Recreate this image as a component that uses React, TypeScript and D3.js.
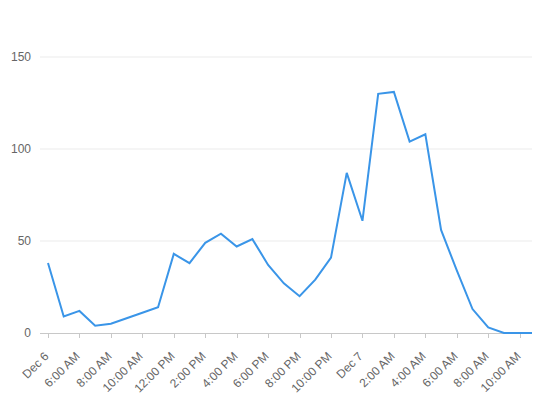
import React from "react";
import * as d3 from "d3";

const times: string[] = [
  "2016-12-06T04:00", "2016-12-06T05:00", "2016-12-06T06:00", "2016-12-06T07:00",
  "2016-12-06T08:00", "2016-12-06T09:00", "2016-12-06T10:00", "2016-12-06T11:00",
  "2016-12-06T12:00", "2016-12-06T13:00", "2016-12-06T14:00", "2016-12-06T15:00",
  "2016-12-06T16:00", "2016-12-06T17:00", "2016-12-06T18:00", "2016-12-06T19:00",
  "2016-12-06T20:00", "2016-12-06T21:00", "2016-12-06T22:00", "2016-12-06T23:00",
  "2016-12-07T00:00", "2016-12-07T01:00", "2016-12-07T02:00", "2016-12-07T03:00",
  "2016-12-07T04:00", "2016-12-07T05:00", "2016-12-07T06:00", "2016-12-07T07:00",
  "2016-12-07T08:00", "2016-12-07T09:00", "2016-12-07T10:00", "2016-12-07T10:47",
];
const values: number[] = [
  38, 9, 12, 4, 5, 8, 11, 14, 43, 38, 49, 54, 47, 51, 37, 27, 20, 29, 41, 87,
  61, 130, 131, 104, 108, 56, 34, 13, 3, 0, 0, 0,
];
const tickTimes: string[] = [
  "2016-12-06T04:00", "2016-12-06T06:00", "2016-12-06T08:00", "2016-12-06T10:00",
  "2016-12-06T12:00", "2016-12-06T14:00", "2016-12-06T16:00", "2016-12-06T18:00",
  "2016-12-06T20:00", "2016-12-06T22:00", "2016-12-07T00:00", "2016-12-07T02:00",
  "2016-12-07T04:00", "2016-12-07T06:00", "2016-12-07T08:00", "2016-12-07T10:00",
];
const tickLabels: string[] = [
  "Dec 6", "6:00 AM", "8:00 AM", "10:00 AM", "12:00 PM", "2:00 PM", "4:00 PM",
  "6:00 PM", "8:00 PM", "10:00 PM", "Dec 7", "2:00 AM", "4:00 AM", "6:00 AM",
  "8:00 AM", "10:00 AM",
];
const yTicks: number[] = [0, 50, 100, 150];

const W = 542;
const H = 402;
const plotLeft = 40;
const plotRight = 532;
const x0 = 48;
const yBottom = 333;
const yTop = 57;
const font = "'Liberation Sans', Arial, Helvetica, sans-serif";

export default function App() {
  const parse = (s: string) => new Date(s);
  const dates = times.map(parse);
  const x = d3.scaleTime().domain([dates[0], dates[dates.length - 1]]).range([x0, plotRight]);
  const y = d3.scaleLinear().domain([0, 150]).range([yBottom, yTop]);
  const line = d3
    .line<number>()
    .x((_, i) => x(dates[i]))
    .y((d) => y(d));
  const path = line(values) || "";

  return (
    <svg
      width={W}
      height={H}
      style={{ position: "absolute", left: 0, top: 0, background: "#fff" }}
    >
      {yTicks.map((t) =>
        t === 0 ? null : (
          <line key={"g" + t} x1={plotLeft} x2={plotRight} y1={y(t)} y2={y(t)} stroke="#ebebeb" strokeWidth={1} />
        )
      )}
      {yTicks.map((t) => (
        <text
          key={"yl" + t}
          x={31}
          y={y(t)}
          dy="0.35em"
          textAnchor="end"
          fontFamily={font}
          fontSize={12}
          fill="#666"
        >
          {t}
        </text>
      ))}
      <line x1={plotLeft} x2={plotRight} y1={yBottom + 0.5} y2={yBottom + 0.5} stroke="#c8c8c8" strokeWidth={1} />
      {tickTimes.map((s, i) => {
        const tx = Math.round(x(parse(s))) + 0.5;
        return (
          <g key={"xt" + i}>
            <line x1={tx} x2={tx} y1={yBottom} y2={yBottom + 5} stroke="#c8c8c8" strokeWidth={1} />
            <text
              transform={`translate(${tx - 2},${yBottom + 21}) rotate(-45)`}
              textAnchor="end"
              dy="0.35em"
              fontFamily={font}
              fontSize={12}
              fill="#666"
            >
              {tickLabels[i]}
            </text>
          </g>
        );
      })}
      <path d={path} fill="none" stroke="#3a95e8" strokeWidth={2} strokeLinejoin="miter" />
    </svg>
  );
}
